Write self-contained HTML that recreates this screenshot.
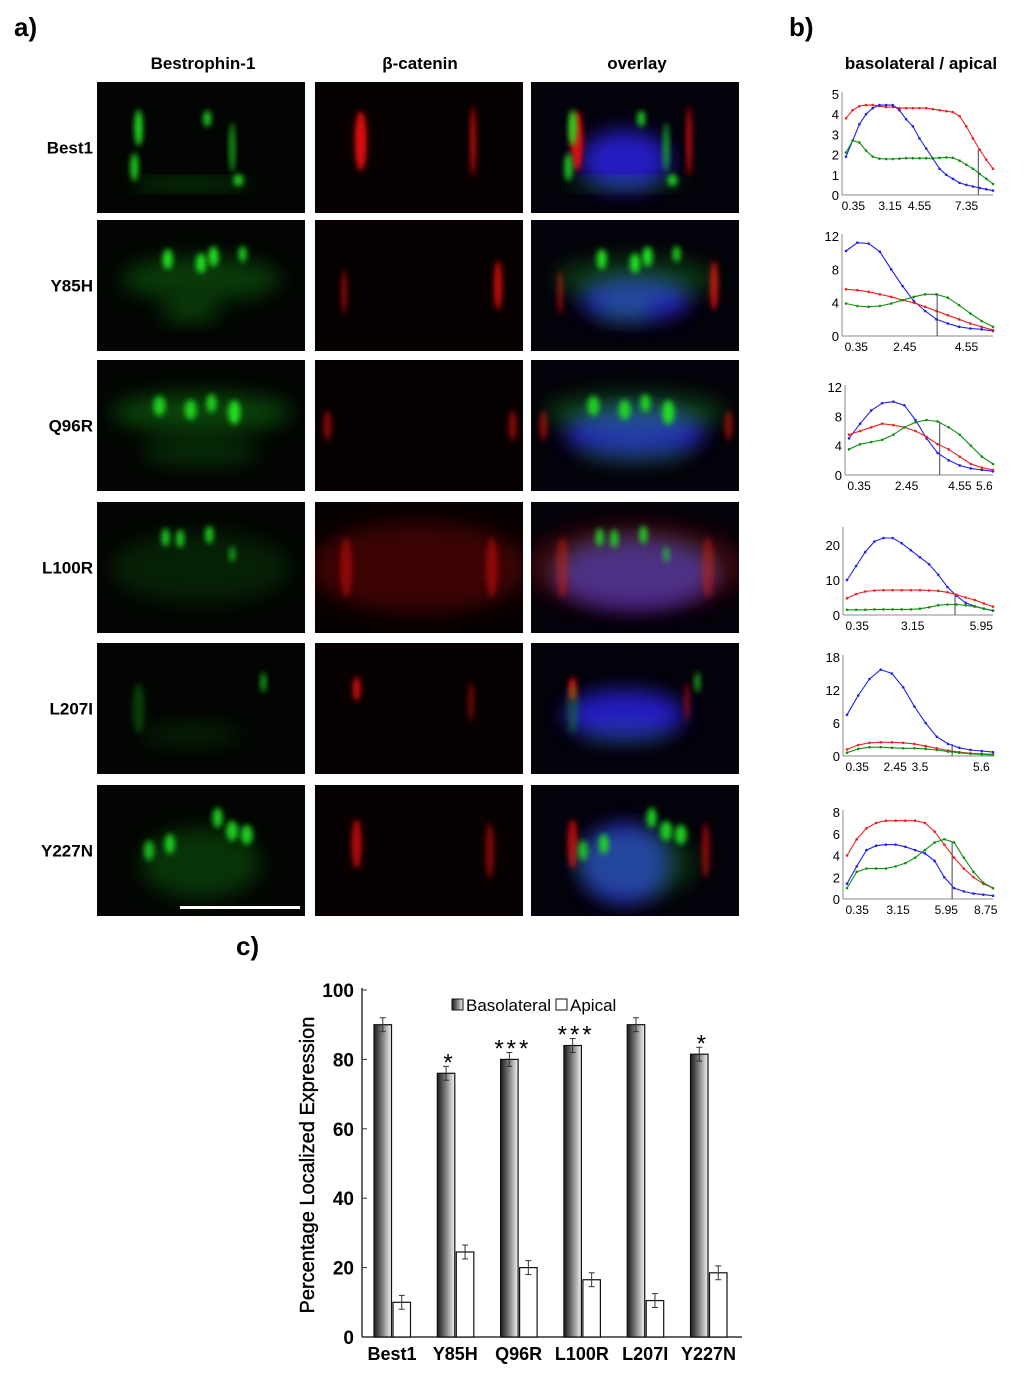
<!DOCTYPE html>
<html><head><meta charset="utf-8"><style>
html,body{margin:0;padding:0;background:#fff;}
svg{display:block;}
text{font-family:"Liberation Sans",sans-serif;}
</style></head><body>
<svg id="fig" width="1024" height="1390" viewBox="0 0 1024 1390" xmlns="http://www.w3.org/2000/svg">
<defs>
<filter id="blur3" x="-50%" y="-50%" width="200%" height="200%"><feGaussianBlur stdDeviation="3"/></filter>
<filter id="blur8" x="-50%" y="-50%" width="200%" height="200%"><feGaussianBlur stdDeviation="10"/></filter>
<linearGradient id="baso" x1="0" x2="1" y1="0" y2="0"><stop offset="0" stop-color="#1a1a1a"/><stop offset="0.45" stop-color="#777"/><stop offset="1" stop-color="#f4f4f4"/></linearGradient>
</defs>
<text x="14" y="36" font-family="Liberation Serif" font-weight="bold" font-size="26">a)</text>
<text x="789" y="36" font-family="Liberation Serif" font-weight="bold" font-size="26">b)</text>
<text x="236" y="955" font-family="Liberation Serif" font-weight="bold" font-size="26">c)</text>
<text x="203" y="69" text-anchor="middle" font-weight="bold" font-size="17">Bestrophin-1</text>
<text x="420" y="69" text-anchor="middle" font-weight="bold" font-size="17">β-catenin</text>
<text x="637" y="69" text-anchor="middle" font-weight="bold" font-size="17">overlay</text>
<text x="921" y="69" text-anchor="middle" font-weight="bold" font-size="17">basolateral / apical</text>
<g id="micro"></g>
<g id="lines"></g>
<g id="bars"></g>
</svg>
<script>
const NS="http://www.w3.org/2000/svg";
function mk(tag,attrs,parent){const e=document.createElementNS(NS,tag);for(const k in attrs)e.setAttribute(k,attrs[k]);parent.appendChild(e);return e;}

/* ---------- panel a micrographs ---------- */
const rowNames=["Best1","Y85H","Q96R","L100R","L207I","Y227N"];
const rowTops=[82,220,360,502,643,785];
const colLefts=[97,315,531];
const PW=208,PH=131;
const greenBlobs=[
 [[.2,.35,4,18,1],[.53,.28,4,8,.9],[.65,.5,3,25,.7],[.68,.75,5,6,.9],[.45,.78,60,5,.5],[.18,.65,4,14,.9]],
 [[.34,.3,5,10,1],[.5,.33,5,10,1],[.56,.28,5,10,1],[.7,.26,4,8,.9],[.5,.45,80,22,.35],[.45,.7,30,10,.4]],
 [[.3,.35,6,10,.9],[.45,.38,6,10,.9],[.66,.4,6,12,1],[.55,.33,5,9,.9],[.5,.4,90,20,.4],[.5,.7,60,14,.25]],
 [[.33,.27,4,9,.9],[.4,.28,4,9,.9],[.54,.25,4,9,.9],[.65,.4,3,8,.7],[.5,.5,90,35,.18]],
 [[.2,.5,6,25,.25],[.8,.3,3,10,.7],[.45,.7,50,10,.2]],
 [[.58,.25,5,10,.9],[.65,.35,6,10,.9],[.72,.38,6,10,.9],[.35,.45,5,10,.9],[.25,.5,5,10,.8],[.5,.6,60,35,.3]]
];
const redBlobs=[
 [[.22,.45,6,30,1],[.76,.45,3,35,.8]],
 [[.14,.55,3,22,.6],[.88,.5,4,25,.9]],
 [[.06,.5,4,15,.6],[.95,.5,4,15,.6]],
 [[.5,.5,110,45,.35],[.15,.5,6,30,.5],[.85,.5,6,30,.5]],
 [[.2,.35,4,12,.9],[.75,.45,3,20,.5]],
 [[.2,.45,5,25,.8],[.84,.5,4,28,.6]]
];
const blueBlobs=[[.45,.6,45,30],[.5,.6,55,22],[.5,.55,70,25],[.5,.55,80,35],[.45,.55,60,25],[.45,.6,45,40]];
const micro=document.getElementById('micro');
rowNames.forEach((nm,r)=>{
  const y=rowTops[r];
  const t=mk('text',{x:93,y:y+PH/2+6,'text-anchor':'end','font-weight':'bold','font-size':17},micro);
  t.textContent=nm;
  
  
  colLefts.forEach((x,c)=>{
    const g=mk('g',{},micro);
    
    
    const cp=mk('clipPath',{id:'cp'+r+c},g);mk('rect',{x:x,y:y,width:PW,height:PH},cp);
    mk('rect',{x:x,y:y,width:PW,height:PH,fill:c==0?'#020502':c==1?'#070101':'#04020a'},g);
    const inner=mk('g',{'clip-path':'url(#cp'+r+c+')'},g);
    const draw=(b,col,op)=>{const big=b[2]>20||b[3]>40;mk('ellipse',{cx:x+b[0]*PW,cy:y+b[1]*PH,rx:b[2],ry:b[3],fill:col,opacity:big?op*0.7:op,filter:big?'url(#blur8)':'url(#blur3)'},inner);};
    if(c==2){const b=blueBlobs[r];mk('ellipse',{cx:x+b[0]*PW,cy:y+b[1]*PH,rx:b[2],ry:b[3],fill:'#2a20e0',opacity:.85,filter:'url(#blur8)'},inner);}
    if(c==1||c==2){redBlobs[r].forEach(b=>draw(b,'#e01010',b[4]));}
    if(c==0||c==2){greenBlobs[r].forEach(b=>draw(b,'#20e020',b[4]));}
  });
});
const sb=mk('rect',{x:180,y:906,width:120,height:3,fill:'#fff'},micro);



/* ---------- panel b line charts ---------- */
const c1Red=[3.8,4.2,4.4,4.45,4.45,4.4,4.35,4.35,4.3,4.3,4.3,4.3,4.3,4.25,4.2,4.15,4.1,3.9,3.4,2.8,2.25,1.75,1.3];
const c1Blue=[1.9,2.7,3.5,4.0,4.3,4.45,4.45,4.45,4.2,3.75,3.4,2.8,2.3,1.8,1.3,1.0,0.8,0.6,0.5,0.42,0.35,0.28,0.22];
const c1Green=[2.1,2.7,2.6,2.2,1.9,1.8,1.78,1.78,1.8,1.82,1.82,1.82,1.82,1.82,1.84,1.86,1.84,1.7,1.5,1.3,1.05,0.8,0.55];
const c2Blue=[10.2,11.2,11.1,10.1,8,6,4.2,3,2,1.5,1.1,0.9,0.8,0.6];
const c2Red=[5.6,5.5,5.3,5,4.7,4.3,4,3.5,3,2.5,2,1.5,1.1,0.7];
const c2Green=[3.9,3.6,3.5,3.6,3.9,4.3,4.7,5,5,4.6,3.7,2.7,1.8,1.1];
const c3Blue=[5,7,8.8,9.8,10,9.5,7.5,5,3,2,1.3,0.9,0.7,0.5];
const c3Red=[5.5,6,6.5,7,6.8,6.5,6,5.2,4.2,3.5,2.5,1.5,1,0.7];
const c3Green=[3.5,4.2,4.5,4.8,5.5,6.5,7.2,7.5,7.3,6.5,5.5,4,2.5,1.5];
const c4Blue=[10,14,18,21,22,22,20.5,18.5,16.5,14.5,11.5,8,5.5,3.5,2.5,1.8,1.2];
const c4Red=[4.8,6,6.7,7,7.1,7.1,7.1,7.1,7.1,7,6.9,6.5,5.8,5,4.3,3.3,2.4];
const c4Green=[1.5,1.5,1.5,1.6,1.6,1.6,1.6,1.6,1.8,2.2,2.8,3,3,2.8,2.4,1.8,1.3];
const c5Blue=[7.5,11,14,15.7,15,12.5,9,6,3.5,2.2,1.5,1.1,0.9,0.7];
const c5Red=[1.2,2,2.4,2.5,2.5,2.4,2.2,1.8,1.4,1,0.7,0.5,0.4,0.3];
const c5Green=[0.6,1.3,1.6,1.6,1.5,1.4,1.4,1.3,1.1,0.8,0.6,0.4,0.3,0.2];
const c6Red=[4,5.5,6.5,7,7.2,7.2,7.2,7.2,7,6.2,5,3.8,2.8,2,1.4,1];
const c6Blue=[1.4,3,4.5,4.9,5,5,4.8,4.5,4.2,3.5,2,1,0.7,0.5,0.4,0.3];
const c6Green=[1,2.5,2.8,2.8,2.8,3,3.3,3.8,4.5,5.2,5.5,5.2,3.8,2.5,1.5,1];
const lineTicks=[[0,1,2,3,4,5],[0,4,8,12],[0,4,8,12],[0,10,20],[0,6,12,18],[0,2,4,6,8]];
const lineXLabels=[["0.35","3.15","4.55","7.35"],["0.35","2.45","4.55"],["0.35","2.45","4.55","5.6"],["0.35","3.15","5.95"],["0.35","2.45","3.5","5.6"],["0.35","3.15","5.95","8.75"]];
const lineXLabelFrac=[[0.05,0.3,0.5,0.82],[0.07,0.4,0.82],[0.07,0.4,0.77,0.94],[0.07,0.45,0.92],[0.07,0.33,0.5,0.92],[0.07,0.35,0.68,0.95]];
const lineVFrac=[0.9,0.62,0.63,0.74,0.72,0.72];
const lineSeries=[[c1Red,c1Blue,c1Green],[c2Blue,c2Red,c2Green],[c3Blue,c3Red,c3Green],[c4Blue,c4Red,c4Green],[c5Blue,c5Red,c5Green],[c6Red,c6Blue,c6Green]];
const lineColors=[["#f02020","#2020f0","#109010"],["#2020f0","#f02020","#109010"],["#2020f0","#f02020","#109010"],["#2020f0","#f02020","#109010"],["#2020f0","#f02020","#109010"],["#f02020","#2020f0","#109010"]];
const lineFrames=[{ax:842,y0:195,ymaxPx:94,ymax:5},{ax:842,y0:336,ymaxPx:236,ymax:12},{ax:845,y0:475,ymaxPx:387,ymax:12},{ax:843,y0:615,ymaxPx:545,ymax:20,top:527},{ax:843,y0:756,ymaxPx:657,ymax:18},{ax:843,y0:899,ymaxPx:812,ymax:8}];
const lines=document.getElementById('lines');
lineFrames.forEach((f,i)=>{
  const g=mk('g',{},lines);
  
  
  const yS=v=>f.y0-(v/f.ymax)*(f.y0-f.ymaxPx);
  const x0=f.ax+4,x1=993;
  const top=f.top||f.ymaxPx-2;
  mk('line',{x1:f.ax,y1:top,x2:f.ax,y2:f.y0,stroke:'#888','stroke-width':1},g);
  mk('line',{x1:f.ax,y1:f.y0,x2:x1,y2:f.y0,stroke:'#888','stroke-width':1},g);
  lineTicks[i].forEach(v=>{const t=mk('text',{x:f.ax-3,y:yS(v)+5,'text-anchor':'end','font-size':13},g);t.textContent=v;});
  lineXLabels[i].forEach((l,k)=>{const t=mk('text',{x:x0+lineXLabelFrac[i][k]*(x1-x0),y:f.y0+15,'text-anchor':'middle','font-size':12,'font-family':'Liberation Sans Narrow, Liberation Sans'},g);t.textContent=l;});
  lineSeries[i].forEach((s,k)=>{
    const xS=j=>x0+j*(x1-x0)/(s.length-1);
    const p=s.map((v,j)=>xS(j).toFixed(1)+','+yS(v).toFixed(1)).join(' ');
    const pl=mk('polyline',{points:p,fill:'none',stroke:lineColors[i][k],'stroke-width':1.1},g);
    
    
    s.forEach((v,j)=>mk('circle',{cx:xS(j),cy:yS(v),r:1.3,fill:lineColors[i][k]},g));
  });
  const vx=x0+lineVFrac[i]*(x1-x0);
  mk('line',{x1:vx,y1:yS(Math.max(...lineSeries[i].map(s=>s[Math.round(lineVFrac[i]*(s.length-1))]))),x2:vx,y2:f.y0,stroke:'#444','stroke-width':1},g);
});

/* ---------- panel c bar chart ---------- */
const barCats=["Best1","Y85H","Q96R","L100R","L207I","Y227N"];
const basoVals=[90,76,80,84,90,81.5];
const apicalVals=[10,24.5,20,16.5,10.5,18.5];
const basoErr=[2,2,2,2,2,2];
const apicalErr=[2,2,2,2,2,2];
const sigMarks=["","*","***","***","","*"];
const yTicks=[0,20,40,60,80,100];
const bars=document.getElementById('bars');
const AX=362,Y0=1337,Y100=990,GX0=392,GSTEP=63.3,BW=17.5;
const yB=v=>Y0-(v/100)*(Y0-Y100);
mk('line',{x1:AX,y1:Y100-2,x2:AX,y2:Y0,stroke:'#333','stroke-width':1.5},bars);
mk('line',{x1:AX,y1:Y0,x2:742,y2:Y0,stroke:'#333','stroke-width':1.5},bars);
yTicks.forEach(v=>{
  mk('line',{x1:AX,y1:yB(v),x2:AX+5,y2:yB(v),stroke:'#333'},bars);
  const t=mk('text',{x:AX-8,y:yB(v)+7,'text-anchor':'end','font-weight':'bold','font-size':19},bars);
  t.textContent=v;
  
  
});
const yt=mk('text',{x:314,y:1165,'text-anchor':'middle','font-size':20,'stroke':'#000','stroke-width':0.4,transform:'rotate(-90 314 1165)'},bars);
yt.textContent="Percentage Localized Expression";


function errBar(cx,v,e){mk('line',{x1:cx,y1:yB(v+e),x2:cx,y2:yB(v-e),stroke:'#333'},bars);[v+e,v-e].forEach(w=>mk('line',{x1:cx-3,y1:yB(w),x2:cx+3,y2:yB(w),stroke:'#333'},bars));}
barCats.forEach((c,i)=>{
  const gx=GX0+i*GSTEP;
  const b=mk('rect',{x:gx-BW-0.5,y:yB(basoVals[i]),width:BW,height:Y0-yB(basoVals[i]),fill:'url(#baso)',stroke:'#111','stroke-width':1.2},bars);
  
  
  const a=mk('rect',{x:gx+1,y:yB(apicalVals[i]),width:BW,height:Y0-yB(apicalVals[i]),fill:'#fff',stroke:'#111','stroke-width':1.2},bars);
  
  
  errBar(gx-BW/2-0.5,basoVals[i],basoErr[i]);
  errBar(gx+1+BW/2,apicalVals[i],apicalErr[i]);
  if(sigMarks[i]){const s=mk('text',{x:gx-BW/2+3,y:yB(basoVals[i]+basoErr[i])+4,'text-anchor':'middle','font-size':24,'letter-spacing':'3'},bars);s.textContent=sigMarks[i];}
  const t=mk('text',{x:gx,y:1360,'text-anchor':'middle','font-weight':'bold','font-size':18},bars);
  t.textContent=c;
  
  
});
const lg=mk('g',{},bars);


mk('rect',{x:452,y:999,width:11,height:11,fill:'url(#baso)',stroke:'#111'},lg);
const l1=mk('text',{x:466,y:1011,'font-size':17},lg);l1.textContent="Basolateral";
mk('rect',{x:556,y:999,width:11,height:11,fill:'#fff',stroke:'#111'},lg);
const l2=mk('text',{x:570,y:1011,'font-size':17},lg);l2.textContent="Apical";
</script>
</body></html>
